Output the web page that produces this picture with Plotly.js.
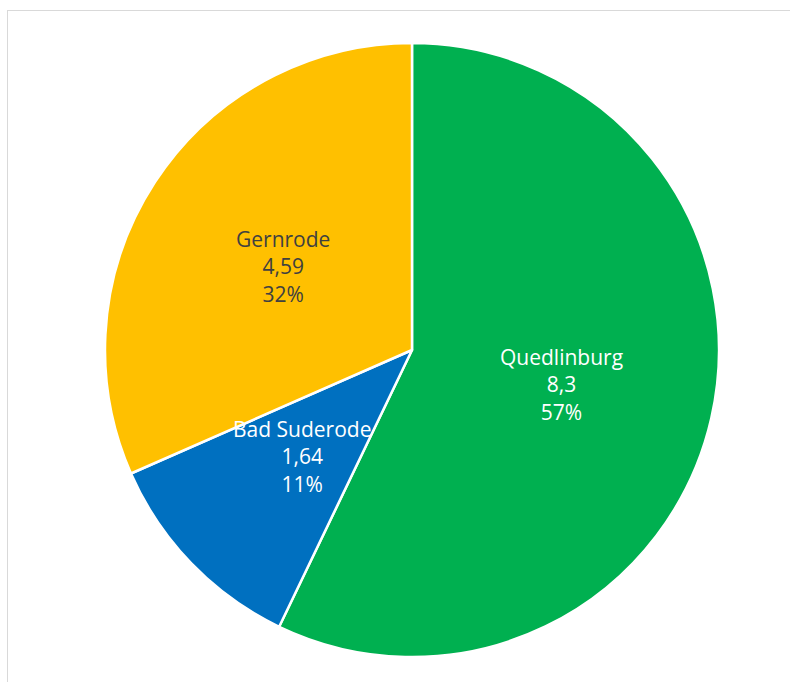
<!DOCTYPE html>
<html>
<head>
<meta charset="utf-8">
<script src="https://cdn.plot.ly/plotly-3.0.1.min.js"></script>
<style>
  html, body { margin: 0; padding: 0; background: #fff; overflow: hidden; }
  #frame { position: absolute; left: 7px; top: 10px; width: 820px; height: 720px;
           border: 1.5px solid #d9d9d9; box-sizing: border-box; }
  #chart { position: absolute; left: 0; top: 0; width: 790px; height: 682px; }
</style>
</head>
<body>
<div id="frame"></div>
<div id="chart"></div>
<script>
const labels = ["Quedlinburg", "Bad Suderode", "Gernrode"];
const values = [8.3, 1.64, 4.59];
const colors = ["#00B050", "#0070C0", "#FFC000"];
const textColors = ["#ffffff", "#ffffff", "#404040"];

const W = 790, H = 682;
const cx = 412, cy = 332, R = 307; // pixel centre (from bottom) and radius

const total = values.reduce((a, b) => a + b, 0);
const annotations = [];
let acc = 0;
values.forEach((v, i) => {
  const mid = (acc + v / 2) / total * 2 * Math.PI;
  acc += v;
  const pct = Math.round(v / total * 100);
  annotations.push({
    x: (cx + 0.5 * R * Math.sin(mid)) / W,
    y: (cy + 0.5 * R * Math.cos(mid)) / H,
    xref: "paper", yref: "paper",
    xanchor: "center", yanchor: "middle",
    showarrow: false,
    align: "center",
    text: labels[i] + "<br>" + String(v).replace(".", ",") + "<br>" + pct + "%",
    font: { family: "Open Sans, sans-serif", size: 21, color: textColors[i] }
  });
});

const trace = {
  type: "pie",
  labels: labels,
  values: values,
  sort: false,
  direction: "clockwise",
  rotation: 0,
  marker: { colors: colors, line: { color: "#ffffff", width: 2.5 } },
  textinfo: "none",
  hoverinfo: "label+value+percent",
  domain: { x: [(cx - R) / W, (cx + R) / W], y: [(cy - R) / H, (cy + R) / H] }
};

Plotly.newPlot("chart", [trace], {
  width: W, height: H,
  margin: { l: 0, r: 0, t: 0, b: 0 },
  paper_bgcolor: "rgba(0,0,0,0)",
  showlegend: false,
  annotations: annotations
}, { displayModeBar: false, staticPlot: true });
</script>
</body>
</html>
